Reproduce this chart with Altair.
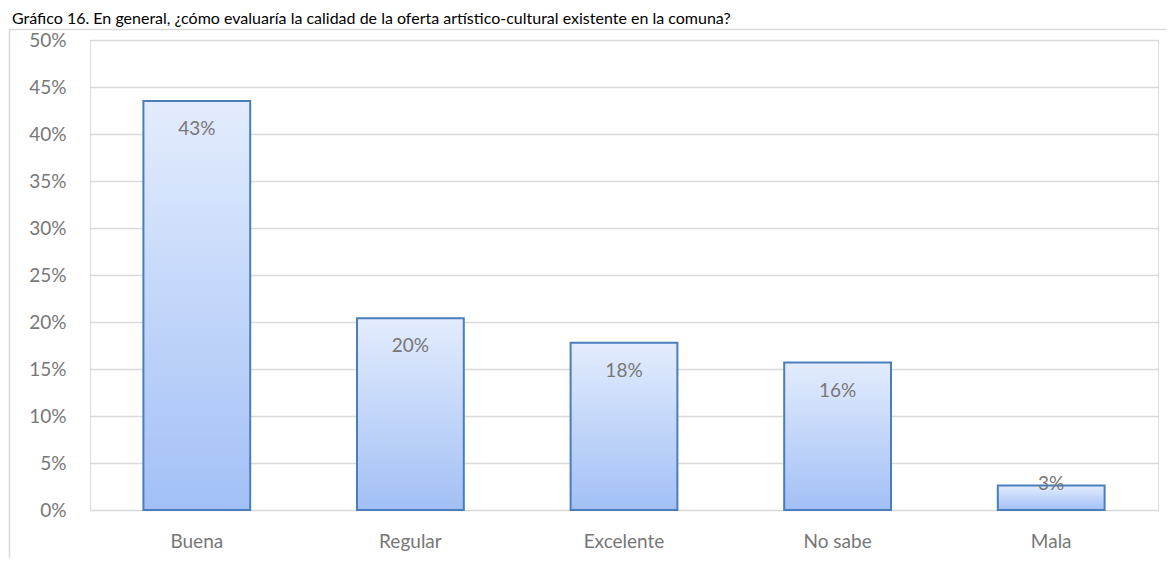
import altair as alt
import pandas as pd

categories = ["Buena", "Regular", "Excelente", "No sabe", "Mala"]
values = [0.435, 0.204, 0.178, 0.157, 0.026]
labels = ["43%", "20%", "18%", "16%", "3%"]
y_ticks = [0, 0.05, 0.10, 0.15, 0.20, 0.25, 0.30, 0.35, 0.40, 0.45, 0.50]
title_text = "Gráfico 16. En general, ¿cómo evaluaría la calidad de la oferta artístico-cultural existente en la comuna?"

df = pd.DataFrame({"cat": categories, "val": values, "lab": labels})
one = pd.DataFrame({"t": [title_text]})

W, H = 1068, 470
FONT = "Lato"
GRAY = "#777777"

x = alt.X("cat:N", sort=categories,
          scale=alt.Scale(paddingInner=0.5, paddingOuter=0.25),
          axis=alt.Axis(title=None, labelAngle=0, ticks=False, domain=False,
                        labelPadding=22, labelFontSize=19, labelColor=GRAY,
                        labelFont=FONT, grid=False))
y = alt.Y("val:Q", scale=alt.Scale(domain=[0, 0.5], nice=False),
          axis=alt.Axis(title=None, format=".0%", values=y_ticks, ticks=False,
                        domain=False, labelPadding=24, labelFontSize=19,
                        labelColor=GRAY, labelFont=FONT, grid=True,
                        gridColor="#d9d9d9", gridWidth=1.3))

grad = alt.Gradient(gradient="linear",
                    stops=[alt.GradientStop(color="#e3ecfd", offset=0),
                           alt.GradientStop(color="#a2c0f6", offset=1)],
                    x1=0, x2=0, y1=0, y2=1)

bars = alt.Chart(df).mark_bar(color=grad, stroke="#4a7ebb", strokeWidth=2).encode(x=x, y=y)

text = alt.Chart(df).transform_calculate(
    lp="datum.val >= 0.05 ? datum.val - 0.03 : datum.val + 0.0015"
).mark_text(font=FONT, fontSize=19, color=GRAY, baseline="middle").encode(
    x=alt.X("cat:N", sort=categories), y=alt.Y("lp:Q"), text="lab:N")

title = alt.Chart(one).mark_text(font="Lato", fontSize=16, color="#000000",
                                 align="left", baseline="alphabetic").encode(
    x=alt.value(-78), y=alt.value(-16), text="t:N")

border_left = alt.Chart(one).mark_rule(color="#d9d9d9", strokeWidth=1.5).encode(
    x=alt.value(-80.5), y=alt.value(-10.5), y2=alt.value(520))
border_top = alt.Chart(one).mark_rule(color="#d9d9d9", strokeWidth=1.5).encode(
    x=alt.value(-80.5), x2=alt.value(1080), y=alt.value(-10.5))

chart = alt.layer(border_left, border_top, bars, text, title).properties(
    width=W, height=H,
    autosize=alt.AutoSizeParams(type="none"),
    padding={"left": 82, "top": 32, "right": 8, "bottom": 48},
).configure_view(stroke=None).configure(background="white")

chart.save("out.html", embed_options={"renderer": "svg", "actions": False})
